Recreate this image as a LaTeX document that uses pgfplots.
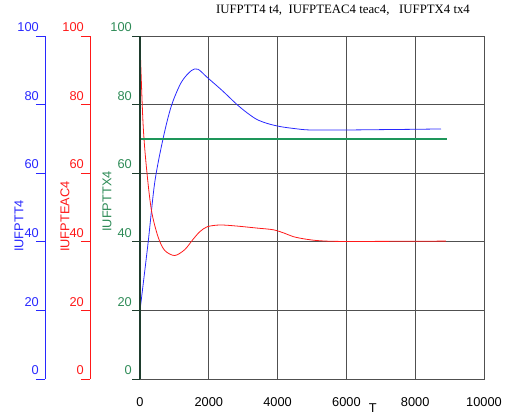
\documentclass[border=0pt]{standalone}
\usepackage{pgfplots}
\pgfplotsset{compat=1.18}
\usepackage{fontspec}
\setmainfont{Liberation Sans}
\newfontfamily\timesfont{Liberation Serif}
\definecolor{cblue}{RGB}{40,40,255}
\definecolor{cred}{RGB}{255,25,25}
\definecolor{cgreenlab}{RGB}{46,139,87}
\definecolor{cgreenline}{RGB}{30,150,90}
\definecolor{caxisg}{RGB}{30,60,45}
\definecolor{cgrid}{RGB}{80,80,80}
\newcommand{\fs}{\fontsize{12.8}{14}\selectfont}
\begin{document}
\begin{tikzpicture}
\path[use as bounding box] (-140pt,-35pt) rectangle (372pt,379pt);
\pgfplotsset{
  every axis/.append style={
    scale only axis, width=344pt, height=343pt,
    ymin=0, ymax=100, ytick={0,20,40,60,80,100},
    tick label style={font=\fs},
    label style={font=\fs},
    /pgf/number format/assume math mode=true,
    /pgf/number format/1000 sep={},
    scaled ticks=false,
  }
}
% main axis
\begin{axis}[
  xmin=0, xmax=10000,
  xtick={0,2000,4000,6000,8000,10000},
  yticklabels={},
  major tick length=0pt,
  grid=major,
  major grid style={cgrid, line width=0.9pt},
  axis line style={cgrid, line width=0.9pt},
  xticklabel style={anchor=north, inner sep=0pt, yshift=-18pt},
  xlabel={T},
  xlabel style={at={(rel axis cs:0.677,0)}, anchor=north, inner sep=0pt, yshift=-24pt},
  title={\timesfont\fs IUFPTT4 t4,\ \ IUFPTEAC4 teac4,\ \ \ IUFPTX4 tx4},
  title style={at={(rel axis cs:0.59,1)}, anchor=center, yshift=20pt, inner sep=0pt},
]
\addplot[cblue, line width=0.8pt, smooth, tension=0.5] coordinates {
(0,20) (233,39.5) (427,57.2) (669,70) (911,79.6) (1201,86.5) (1492,89.9) (1686,90.3)
(1957,87.9) (2400,84) (2810,80.1)
(3100,77.7) (3391,75.7) (3700,74.5) (4070,73.6) (4500,73) (4942,72.6) (6000,72.6)
(7000,72.7) (8000,72.8) (8750,72.9)};
\addplot[cred, line width=0.8pt, smooth, tension=0.5] coordinates {
(0,98) (87,74.8) (184,62) (330,49.3) (523,41.5) (717,37.5) (1008,36) (1299,37.7)
(1541,40.7) (1735,42.9) (1957,44.4)
(2326,44.9) (2800,44.6) (3400,44) (3876,43.5) (4200,42.5) (4457,41.5)
(4800,40.8) (5233,40.3) (6000,40.1) (8890,40.2)};
\addplot[cgreenline, line width=2pt] coordinates {(0,70) (8915,70)};
\end{axis}
% green y axis
\begin{axis}[
  xmin=0, xmax=10000,
  hide x axis,
  axis y line*=left,
  axis line style={caxisg, line width=1.6pt, -},
  tick align=outside,
  major tick length=8pt,
  y tick style={caxisg, line width=0.9pt},
  yticklabel style={cgreenlab, anchor=south east, inner sep=0pt, xshift=0pt, yshift=4pt},
  ylabel={IUFPTTX4},
  ylabel style={cgreenlab, at={(rel axis cs:-0.0959,0.429)}, anchor=west, inner sep=0pt},
]
\end{axis}
% blue y axis
\begin{axis}[
  at={(-95pt,0pt)},
  xmin=0, xmax=10000,
  hide x axis,
  axis y line*=left,
  axis line style={cblue, line width=0.9pt, -},
  tick align=outside,
  major tick length=9pt,
  y tick style={cblue, line width=0.9pt},
  yticklabel style={cblue, anchor=south east, inner sep=0pt, xshift=3pt, yshift=4pt},
  ylabel={IUFPTT4},
  ylabel style={cblue, at={(rel axis cs:-0.0756,0.37)}, anchor=west, inner sep=0pt},
]
\end{axis}
% red y axis
\begin{axis}[
  at={(-50pt,0pt)},
  xmin=0, xmax=10000,
  hide x axis,
  axis y line*=left,
  axis line style={cred, line width=0.9pt, -},
  tick align=outside,
  major tick length=9pt,
  y tick style={cred, line width=0.9pt},
  yticklabel style={cred, anchor=south east, inner sep=0pt, xshift=3pt, yshift=4pt},
  ylabel={IUFPTEAC4},
  ylabel style={cred, at={(rel axis cs:-0.0727,0.37)}, anchor=west, inner sep=0pt},
]
\end{axis}
\end{tikzpicture}
\end{document}
